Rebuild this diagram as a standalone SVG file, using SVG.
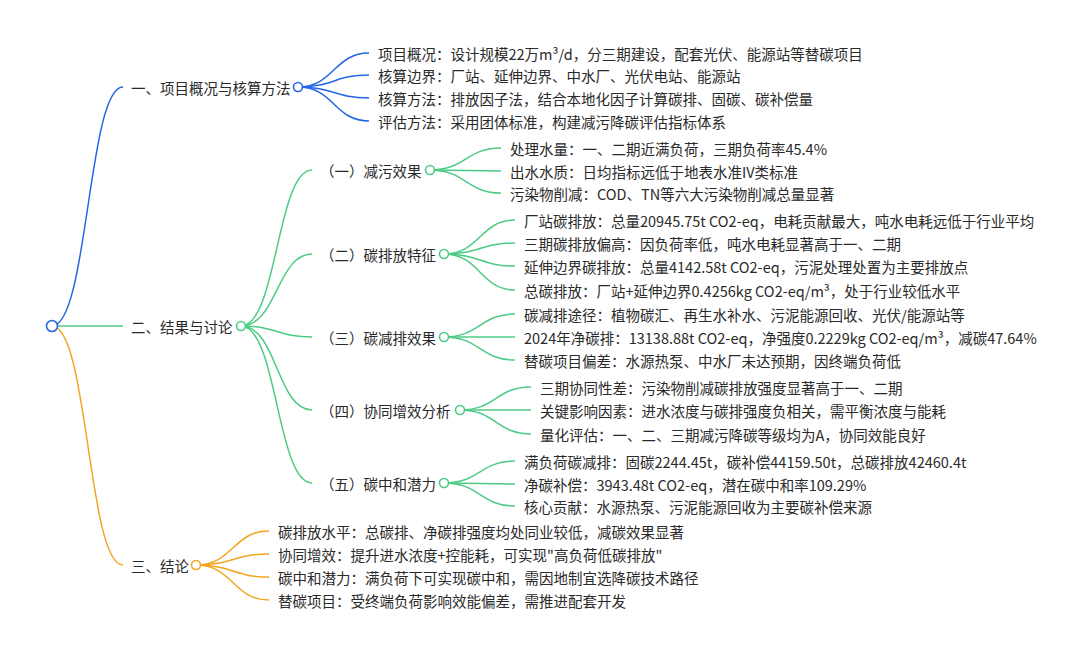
<svg xmlns="http://www.w3.org/2000/svg" width="1080" height="652" viewBox="0 0 1080 652">
<style>
text{font-family:"Noto Sans CJK SC","Noto Sans",sans-serif;font-size:14.5px;fill:#2a2a2a;dominant-baseline:central}
.l{fill:none;stroke-width:1.5}
.b{stroke:#2466e6}.g{stroke:#4ccb85}.o{stroke:#f4a520}
.c{fill:#fff;stroke-width:1.6}
</style>
<rect width="1080" height="652" fill="#fff"/>
<g id="connectors">
<path class="l b" d="M52 326 C88 326 88 87 123 87"/>
<path class="l g" d="M52 326 L123 326"/>
<path class="l o" d="M52 326 C88 326 88 565 123 565"/>
<path class="l b" d="M298 87 C334 87 334 53 369 53"/>
<path class="l b" d="M298 87 C334 87 334 75 369 75"/>
<path class="l b" d="M298 87 C334 87 334 98 369 98"/>
<path class="l b" d="M298 87 C334 87 334 121 369 121"/>
<path class="l g" d="M241 326 C277 326 277 170 312 170"/>
<path class="l g" d="M241 326 C277 326 277 254 312 254"/>
<path class="l g" d="M241 326 C277 326 277 337 312 337"/>
<path class="l g" d="M241 326 C277 326 277 410 312 410"/>
<path class="l g" d="M241 326 C277 326 277 483 312 483"/>
<path class="l g" d="M430 170 C466 170 466 148 501 148"/>
<path class="l g" d="M430 170 C466 170 466 171 501 171"/>
<path class="l g" d="M430 170 C466 170 466 193 501 193"/>
<path class="l g" d="M444 254 C480 254 480 220 515 220"/>
<path class="l g" d="M444 254 C480 254 480 243 515 243"/>
<path class="l g" d="M444 254 C480 254 480 266 515 266"/>
<path class="l g" d="M444 254 C480 254 480 290 515 290"/>
<path class="l g" d="M444 337 C480 337 480 314 515 314"/>
<path class="l g" d="M444 337 C480 337 480 337 515 337"/>
<path class="l g" d="M444 337 C480 337 480 360 515 360"/>
<path class="l g" d="M460 410 C496 410 496 387 531 387"/>
<path class="l g" d="M460 410 C496 410 496 410 531 410"/>
<path class="l g" d="M460 410 C496 410 496 434 531 434"/>
<path class="l g" d="M444 483 C480 483 480 461 515 461"/>
<path class="l g" d="M444 483 C480 483 480 484 515 484"/>
<path class="l g" d="M444 483 C480 483 480 506 515 506"/>
<path class="l o" d="M196 565 C233 565 233 531 269 531"/>
<path class="l o" d="M196 565 C233 565 233 554 269 554"/>
<path class="l o" d="M196 565 C233 565 233 577 269 577"/>
<path class="l o" d="M196 565 C233 565 233 600 269 600"/>
</g>
<g id="root"><circle class="c b" cx="52" cy="326" r="5.5"/></g>
<g id="n1"><text x="131" y="87">一、项目概况与核算方法</text><circle class="c b" cx="298" cy="87" r="4.5"/></g>
<g id="n1-1"><text x="378" y="53">项目概况：设计规模22万m³/d，分三期建设，配套光伏、能源站等替碳项目</text></g>
<g id="n1-2"><text x="378" y="75">核算边界：厂站、延伸边界、中水厂、光伏电站、能源站</text></g>
<g id="n1-3"><text x="378" y="98">核算方法：排放因子法，结合本地化因子计算碳排、固碳、碳补偿量</text></g>
<g id="n1-4"><text x="378" y="121">评估方法：采用团体标准，构建减污降碳评估指标体系</text></g>
<g id="n2"><text x="131" y="326">二、结果与讨论</text><circle class="c g" cx="241" cy="326" r="4.5"/></g>
<g id="n2-1"><text x="320" y="170">（一）减污效果</text><circle class="c g" cx="430" cy="170" r="4.5"/></g>
<g id="n2-1-1"><text x="510" y="148">处理水量：一、二期近满负荷，三期负荷率45.4%</text></g>
<g id="n2-1-2"><text x="510" y="171">出水水质：日均指标远低于地表水准IV类标准</text></g>
<g id="n2-1-3"><text x="510" y="193">污染物削减：COD、TN等六大污染物削减总量显著</text></g>
<g id="n2-2"><text x="320" y="254">（二）碳排放特征</text><circle class="c g" cx="444" cy="254" r="4.5"/></g>
<g id="n2-2-1"><text x="524" y="220">厂站碳排放：总量20945.75t CO2-eq，电耗贡献最大，吨水电耗远低于行业平均</text></g>
<g id="n2-2-2"><text x="524" y="243">三期碳排放偏高：因负荷率低，吨水电耗显著高于一、二期</text></g>
<g id="n2-2-3"><text x="524" y="266">延伸边界碳排放：总量4142.58t CO2-eq，污泥处理处置为主要排放点</text></g>
<g id="n2-2-4"><text x="524" y="290">总碳排放：厂站+延伸边界0.4256kg CO2-eq/m³，处于行业较低水平</text></g>
<g id="n2-3"><text x="320" y="337">（三）碳减排效果</text><circle class="c g" cx="444" cy="337" r="4.5"/></g>
<g id="n2-3-1"><text x="524" y="314">碳减排途径：植物碳汇、再生水补水、污泥能源回收、光伏/能源站等</text></g>
<g id="n2-3-2"><text x="524" y="337">2024年净碳排：13138.88t CO2-eq，净强度0.2229kg CO2-eq/m³，减碳47.64%</text></g>
<g id="n2-3-3"><text x="524" y="360">替碳项目偏差：水源热泵、中水厂未达预期，因终端负荷低</text></g>
<g id="n2-4"><text x="320" y="410">（四）协同增效分析</text><circle class="c g" cx="460" cy="410" r="4.5"/></g>
<g id="n2-4-1"><text x="540" y="387">三期协同性差：污染物削减碳排放强度显著高于一、二期</text></g>
<g id="n2-4-2"><text x="540" y="410">关键影响因素：进水浓度与碳排强度负相关，需平衡浓度与能耗</text></g>
<g id="n2-4-3"><text x="540" y="434">量化评估：一、二、三期减污降碳等级均为A，协同效能良好</text></g>
<g id="n2-5"><text x="320" y="483">（五）碳中和潜力</text><circle class="c g" cx="444" cy="483" r="4.5"/></g>
<g id="n2-5-1"><text x="524" y="461">满负荷碳减排：固碳2244.45t，碳补偿44159.50t，总碳排放42460.4t</text></g>
<g id="n2-5-2"><text x="524" y="484">净碳补偿：3943.48t CO2-eq，潜在碳中和率109.29%</text></g>
<g id="n2-5-3"><text x="524" y="506">核心贡献：水源热泵、污泥能源回收为主要碳补偿来源</text></g>
<g id="n3"><text x="131" y="565">三、结论</text><circle class="c o" cx="196" cy="565" r="4.5"/></g>
<g id="n3-1"><text x="278" y="531">碳排放水平：总碳排、净碳排强度均处同业较低，减碳效果显著</text></g>
<g id="n3-2"><text x="278" y="554">协同增效：提升进水浓度+控能耗，可实现"高负荷低碳排放"</text></g>
<g id="n3-3"><text x="278" y="577">碳中和潜力：满负荷下可实现碳中和，需因地制宜选降碳技术路径</text></g>
<g id="n3-4"><text x="278" y="600">替碳项目：受终端负荷影响效能偏差，需推进配套开发</text></g>
</svg>
